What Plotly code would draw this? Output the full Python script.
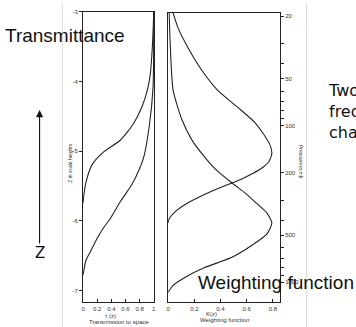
import plotly.graph_objects as go

# ---- data ----
# Left panel: transmission to space vs z (scale heights)
z_A = [-3.0, -3.5, -3.9, -4.12, -4.37, -4.61, -4.84, -5.02, -5.19, -5.43, -5.62, -5.75]
tau_A = [1.0, 0.98, 0.95, 0.91, 0.83, 0.71, 0.53, 0.28, 0.13, 0.045, 0.012, 0.0]
z_B = [-3.0, -4.08, -4.61, -5.08, -5.25, -5.48, -5.72, -5.96, -6.10, -6.25, -6.43, -6.57, -6.78]
tau_B = [1.0, 0.99, 0.94, 0.86, 0.80, 0.69, 0.53, 0.39, 0.29, 0.20, 0.11, 0.04, 0.0]

# Right panel: weighting function vs pressure (mb)
p_C = [19.0, 23.6, 31.6, 44.2, 59.2, 75.8, 94.3, 114, 132, 150, 169, 184, 201, 216, 230, 243, 262, 286, 316, 355, 393, 417]
K_C = [0.038, 0.075, 0.151, 0.257, 0.377, 0.528, 0.657, 0.732, 0.777, 0.792, 0.770, 0.725, 0.649, 0.574, 0.498, 0.423, 0.332, 0.234, 0.136, 0.053, 0.008, 0.0]
p_D = [19.0, 28.6, 59.2, 91.6, 123, 153, 187, 233, 269, 303, 361, 417, 490, 567, 695, 804, 930, 1045, 1157]
K_D = [0.008, 0.015, 0.038, 0.106, 0.181, 0.264, 0.355, 0.491, 0.589, 0.657, 0.755, 0.792, 0.755, 0.657, 0.483, 0.279, 0.128, 0.038, 0.0]

# ticks
tau_ticks = [0, 0.2, 0.4, 0.6, 0.8, 1]
tau_ticktext = ["0", "0.2", "0.4", "0.6", "0.8", "1"]
z_ticks = [-3, -4, -5, -6, -7]
z_ticktext = ["-3", "-4", "-5", "-6", "-7"]
K_ticks = [0, 0.2, 0.4, 0.6, 0.8]
K_ticktext = ["0", "0.2", "0.4", "0.6", "0.8"]
p_ticks = [20, 30, 40, 50, 60, 70, 80, 90, 100, 200, 300, 400, 500, 600, 700, 800, 900, 1000]
p_ticktext = ["20", "", "", "50", "", "", "", "", "100", "200", "", "", "500", "", "", "", "", "1000"]

W, H = 356, 327
def px(x):
    return x / W
def py(y):
    return 1 - y / H

LINE = "#222222"
fig = go.Figure()
for xs, ys in [(tau_A, z_A), (tau_B, z_B)]:
    fig.add_trace(go.Scatter(x=xs, y=ys, mode="lines", xaxis="x", yaxis="y",
                             line=dict(color=LINE, width=1.1, shape="spline", smoothing=0.6),
                             showlegend=False, hoverinfo="skip"))
for xs, ys in [(K_C, p_C), (K_D, p_D)]:
    fig.add_trace(go.Scatter(x=xs, y=ys, mode="lines", xaxis="x2", yaxis="y2",
                             line=dict(color=LINE, width=1.1, shape="spline", smoothing=0.6),
                             showlegend=False, hoverinfo="skip"))

FONT = "Liberation Sans, Arimo, Arial, sans-serif"
tickfont = dict(family=FONT, size=6, color="#333")
common = dict(showline=True, mirror=True, linecolor=LINE, linewidth=1.2,
              showgrid=False, zeroline=False, tickfont=tickfont, tickcolor=LINE, tickwidth=0.8)

fig.update_layout(
    width=W, height=H, autosize=False,
    margin=dict(l=0, r=0, t=0, b=0),
    paper_bgcolor="white", plot_bgcolor="white",
    font=dict(family=FONT),
    xaxis=dict(domain=[px(82), px(154)], range=[0, 1.007], anchor="y",
               tickmode="array", tickvals=tau_ticks, ticktext=tau_ticktext,
               ticks="inside", ticklen=3, **common),
    yaxis=dict(domain=[py(302), py(9)], range=[-7.17, -3], anchor="x",
               tickmode="array", tickvals=z_ticks, ticktext=z_ticktext,
               ticks="outside", ticklen=3, **common),
    xaxis2=dict(domain=[px(168), px(281)], range=[0, 0.853], anchor="y2",
                tickmode="array", tickvals=K_ticks, ticktext=K_ticktext,
                ticks="inside", ticklen=3, **common),
    yaxis2=dict(domain=[py(302), py(10)], type="log", range=[3.127, 1.279], anchor="x2",
                side="right", tickmode="array", tickvals=p_ticks, ticktext=p_ticktext,
                ticks="outside", ticklen=3, **common),
)

small = dict(family=FONT, size=6, color="#333")
tiny = dict(family=FONT, size=5, color="#333")
big = dict(family=FONT, size=19, color="#111")

ann = [
    dict(text="τ (z)", x=px(110), y=py(316), font=small),
    dict(text="Transmission to space", x=px(118), y=py(322), font=small),
    dict(text="K(z)", x=px(212), y=py(314), font=small),
    dict(text="Weighting function", x=px(225), y=py(320), font=small),
    dict(text="Z in scale heights", x=px(68), y=py(162), font=tiny, textangle=-90),
    dict(text="Pressure in mb", x=px(303), y=py(160), font=tiny, textangle=90),
    dict(text="Transmittance", x=px(126), y=py(33), xanchor="right", font=big),
    dict(text="Weighting function", x=px(196), y=py(282), xanchor="left", font=big),
    dict(text="Two<br>frequency<br>channels", x=px(328), y=py(77), xanchor="left", yanchor="top",
         align="left", font=dict(family="DejaVu Sans", size=16, color="#111")),
    dict(text="Z", x=px(38), y=py(252), font=dict(family="DejaVu Sans", size=15, color="#111")),
]
annotations = []
for a in ann:
    d = dict(xref="paper", yref="paper", showarrow=False, xanchor="center", yanchor="middle")
    d.update(a)
    annotations.append(d)
annotations.append(dict(xref="paper", yref="paper", x=px(38), y=py(108), text="",
                        showarrow=True, axref="pixel", ayref="pixel", ax=0, ay=135,
                        arrowhead=2, arrowsize=1.3, arrowwidth=1.1, arrowcolor="#111"))
fig.update_layout(annotations=annotations)

fig.update_layout(shapes=[
    dict(type="line", xref="paper", yref="paper", x0=px(61), x1=px(61), y0=0, y1=1,
         line=dict(color="#dddddd", width=1)),
    dict(type="line", xref="paper", yref="paper", x0=px(308), x1=px(308), y0=0, y1=1,
         line=dict(color="#dddddd", width=1)),
])

fig.write_html("out.html", config={"displayModeBar": False},
               post_script="document.body.style.margin='0';document.body.style.padding='0';")
